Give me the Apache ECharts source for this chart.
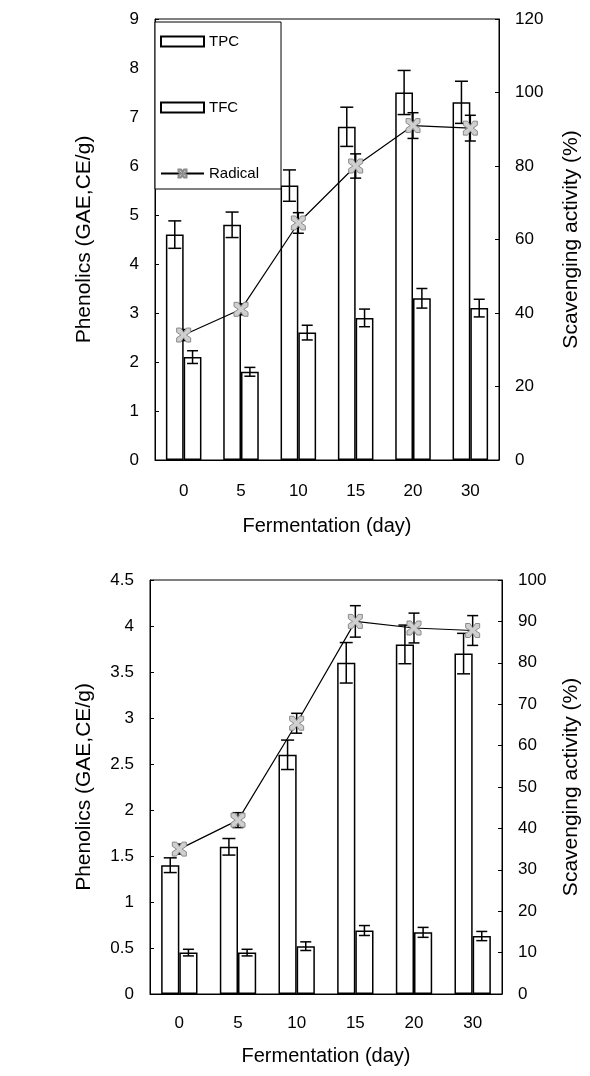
<!DOCTYPE html>
<html>
<head>
<meta charset="utf-8">
<script src="https://cdn.jsdelivr.net/npm/echarts@6/dist/echarts.min.js"></script>
<style>
  html, body { margin: 0; padding: 0; background: #fff; }
  #main { width: 590px; height: 1076px; }
</style>
</head>
<body>
<div id="main"></div>
<script>
var days = ['0', '5', '10', '15', '20', '30'];

// upper panel
var tpcTop = [4.6, 4.8, 5.6, 6.8, 7.5, 7.3];
var tpcTopErr = [0.28, 0.26, 0.32, 0.4, 0.45, 0.43];
var tfcTop = [2.1, 1.8, 2.6, 2.9, 3.3, 3.1];
var tfcTopErr = [0.13, 0.09, 0.15, 0.18, 0.2, 0.18];
var radTop = [34, 41, 64.5, 80, 91, 90.3];
var radTopErr = [1.5, 1.5, 2.8, 3.3, 3.5, 3.5];

// lower panel
var tpcBottom = [1.4, 1.6, 2.6, 3.6, 3.8, 3.7];
var tpcBottomErr = [0.08, 0.09, 0.16, 0.22, 0.21, 0.22];
var tfcBottom = [0.45, 0.45, 0.52, 0.69, 0.67, 0.63];
var tfcBottomErr = [0.036, 0.036, 0.047, 0.054, 0.054, 0.05];
var radBottom = [35, 42, 65.4, 90, 88.4, 87.8];
var radBottomErr = [1.2, 1.8, 2.4, 3.8, 3.6, 3.6];

var FONT = 'Liberation Sans, Arial, sans-serif';
var GAP = 0.38;
var marker = 'path://M0,0 L3,0 L5,3 L7,0 L10,0 L10,3 L7,5 L10,7 L10,10 L7,10 L5,7 L3,10 L0,10 L0,7 L3,5 L0,3 Z';

var chart = echarts.init(document.getElementById('main'));

function errData(vals, errs) {
    return vals.map(function (v, i) { return [i, v - errs[i], v + errs[i]]; });
}

// offset: -0.5 first bar, 0.5 second bar, 0 category centre
function errRender(offset, capW) {
    return function (params, api) {
        var i = api.value(0);
        var lo = api.coord([i, api.value(1)]);
        var hi = api.coord([i, api.value(2)]);
        var band = api.size([1, 0])[0];
        var bw = band * (1 - GAP) / 2;
        var x = lo[0] + offset * bw;
        var st = { stroke: '#000', lineWidth: 1.5 };
        return {
            type: 'group',
            children: [
                { type: 'line', shape: { x1: x, y1: lo[1], x2: x, y2: hi[1] }, style: st },
                { type: 'line', shape: { x1: x - capW / 2, y1: lo[1], x2: x + capW / 2, y2: lo[1] }, style: st },
                { type: 'line', shape: { x1: x - capW / 2, y1: hi[1], x2: x + capW / 2, y2: hi[1] }, style: st }
            ]
        };
    };
}

function xAxisFor(gi, margin, gap) {
    return {
        type: 'category', gridIndex: gi, data: days,
        axisLine: { lineStyle: { color: '#000', width: 1 } },
        axisTick: { inside: true, length: 4, lineStyle: { color: '#000' } },
        axisLabel: { color: '#000', fontSize: 17, fontFamily: FONT, margin: margin },
        name: 'Fermentation (day)', nameLocation: 'middle', nameGap: gap,
        nameTextStyle: { color: '#000', fontSize: 20, fontFamily: FONT }
    };
}

function yAxisFor(gi, pos, max, interval, name, gap) {
    return {
        type: 'value', gridIndex: gi, position: pos, min: 0, max: max, interval: interval,
        splitLine: { show: false },
        axisLine: { show: true, lineStyle: { color: '#000', width: 1 } },
        axisTick: { show: true, inside: true, length: 4, lineStyle: { color: '#000' } },
        axisLabel: { color: '#000', fontSize: 17, fontFamily: FONT, margin: 16 },
        name: name, nameLocation: 'middle', nameGap: gap, nameRotate: 90,
        nameTextStyle: { color: '#000', fontSize: 21, fontFamily: FONT }
    };
}

var barStyle = { color: '#fff', borderColor: '#000', borderWidth: 1.5 };
var radStyle = { color: '#cfcfcf', borderColor: '#8a8a8a', borderWidth: 1 };

function panel(gi, tpc, tpcE, tfc, tfcE, rad, radE) {
    var xi = gi, yl = gi * 2, yr = gi * 2 + 1;
    return [
        { name: 'TPC', type: 'bar', xAxisIndex: xi, yAxisIndex: yl, data: tpc,
          barGap: '0%', barCategoryGap: (GAP * 100) + '%', itemStyle: barStyle, z: 2 },
        { name: 'TFC', type: 'bar', xAxisIndex: xi, yAxisIndex: yl, data: tfc,
          barGap: '0%', barCategoryGap: (GAP * 100) + '%', itemStyle: barStyle, z: 2 },
        { type: 'custom', xAxisIndex: xi, yAxisIndex: yl, data: errData(tpc, tpcE),
          renderItem: errRender(-0.5, 13), encode: { x: 0, y: [1, 2] }, z: 3, silent: true },
        { type: 'custom', xAxisIndex: xi, yAxisIndex: yl, data: errData(tfc, tfcE),
          renderItem: errRender(0.5, 11), encode: { x: 0, y: [1, 2] }, z: 3, silent: true },
        { type: 'custom', xAxisIndex: xi, yAxisIndex: yr, data: errData(rad, radE),
          renderItem: errRender(0, 11), encode: { x: 0, y: [1, 2] }, z: 4, silent: true },
        { name: 'Radical', type: 'line', xAxisIndex: xi, yAxisIndex: yr, data: rad,
          symbol: marker, symbolSize: 14, showAllSymbol: true,
          lineStyle: { color: '#000', width: 1.2 }, itemStyle: radStyle, z: 5 }
    ];
}

var option = {
    animation: false,
    backgroundColor: '#fff',
    textStyle: { fontFamily: FONT },
    grid: [
        { left: 155, top: 19, width: 347, height: 441, show: true, borderColor: '#000', borderWidth: 1, containLabel: false },
        { left: 150, top: 580, width: 353, height: 414, show: true, borderColor: '#000', borderWidth: 1, containLabel: false }
    ],
    legend: {
        data: [
            { name: 'TPC', icon: 'rect' },
            { name: 'TFC', icon: 'rect' },
            { name: 'Radical' }
        ],
        orient: 'vertical', left: 155, top: 22,
        itemWidth: 43, itemHeight: 10, itemGap: 51,
        padding: [12, 22, 8, 5],
        borderColor: '#000', borderWidth: 1, backgroundColor: '#fff',
        textStyle: { color: '#000', fontSize: 15, fontFamily: FONT }
    },
    xAxis: [xAxisFor(0, 23, 56), xAxisFor(1, 21, 52)],
    yAxis: [
        yAxisFor(0, 'left', 9, 1, 'Phenolics (GAE,CE/g)', 60),
        yAxisFor(0, 'right', 120, 20, 'Scavenging activity (%)', 62),
        yAxisFor(1, 'left', 4.5, 0.5, 'Phenolics (GAE,CE/g)', 55),
        yAxisFor(1, 'right', 100, 10, 'Scavenging activity (%)', 59)
    ],
    series: panel(0, tpcTop, tpcTopErr, tfcTop, tfcTopErr, radTop, radTopErr)
        .concat(panel(1, tpcBottom, tpcBottomErr, tfcBottom, tfcBottomErr, radBottom, radBottomErr))
};

chart.setOption(option);
</script>
</body>
</html>
